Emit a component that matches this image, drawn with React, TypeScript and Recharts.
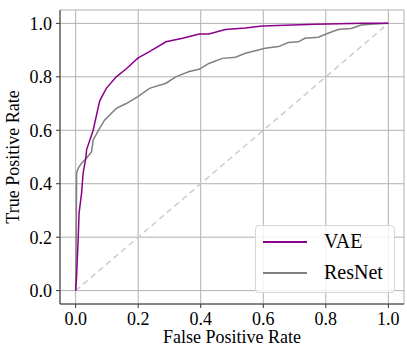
import { LineChart, Line, XAxis, YAxis, CartesianGrid } from "recharts";

const ticks = [0, 0.2, 0.4, 0.6, 0.8, 1.0];

const vaeFpr = [0, 0.003, 0.008, 0.011, 0.019, 0.024, 0.033, 0.035, 0.056, 0.077, 0.098, 0.13, 0.162, 0.199, 0.236, 0.289, 0.342, 0.395, 0.426, 0.479, 0.543, 0.596, 0.765, 0.924, 1.0];
const vaeTpr = [0, 0.053, 0.19, 0.29, 0.365, 0.44, 0.5, 0.527, 0.6, 0.71, 0.757, 0.8, 0.83, 0.87, 0.894, 0.931, 0.944, 0.96, 0.96, 0.977, 0.983, 0.99, 0.997, 1.0, 1.0];

const resFpr = [0, 0.002, 0.003, 0.008, 0.019, 0.035, 0.051, 0.056, 0.077, 0.093, 0.13, 0.162, 0.199, 0.236, 0.289, 0.32, 0.363, 0.395, 0.426, 0.469, 0.511, 0.543, 0.606, 0.649, 0.68, 0.712, 0.733, 0.776, 0.807, 0.839, 0.881, 0.913, 0.945, 1.0];
const resTpr = [0, 0.2, 0.44, 0.458, 0.477, 0.496, 0.52, 0.564, 0.608, 0.639, 0.682, 0.7, 0.726, 0.757, 0.776, 0.8, 0.82, 0.828, 0.85, 0.869, 0.873, 0.888, 0.907, 0.913, 0.928, 0.931, 0.944, 0.948, 0.963, 0.977, 0.981, 0.994, 0.997, 1.0];

const chanceFpr = [0, 1];
const chanceTpr = [0, 1];

const seriesNames = ["VAE", "ResNet"];
const seriesColors = ["#8b008b", "#808080"];

const zip = (xs: number[], ys: number[]) => xs.map((x, i) => ({ fpr: x, tpr: ys[i] }));

const font = "'Liberation Serif', 'Times New Roman', serif";

function LegendBox() {
  return (
    <div
      style={{
        position: "absolute",
        left: 255,
        top: 225,
        width: 140,
        boxSizing: "border-box",
        background: "rgba(255,255,255,0.8)",
        border: "1px solid #d6d6d6",
        borderRadius: 4,
        padding: "0 8px 4px 7px",
        fontFamily: font,
        fontSize: 20,
        color: "#000",
      }}
    >
      {seriesNames.map((name, i) => (
        <div key={name} style={{ display: "flex", alignItems: "center", height: 31 }}>
          <div style={{ width: 44, height: 2, background: seriesColors[i], marginRight: 17 }} />
          <span>{name}</span>
        </div>
      ))}
    </div>
  );
}

export default function App() {
  return (
    <div style={{ position: "fixed", left: 0, top: 0, width: 407, height: 347, background: "#fff", fontFamily: font }}>
      <style>{`
        .roc svg text { font-family: 'Liberation Serif', 'Times New Roman', serif !important; }
        .roc .recharts-cartesian-axis-tick-value { font-size: 18px !important; }
      `}</style>
      <div className="roc">
        <LineChart width={407} height={347} margin={{ top: 10, right: 3, left: 0, bottom: 0 }}>
          <CartesianGrid stroke="#b0b0b0" strokeWidth={1} horizontal vertical />
          <XAxis
            type="number"
            dataKey="fpr"
            domain={[-0.05, 1.05]}
            ticks={ticks}
            tickFormatter={(v: number) => v.toFixed(1)}
            allowDataOverflow
            height={43}
            stroke="#333"
            tickSize={4}
            tickMargin={4}
            tick={{ fill: "#000", fontSize: 18 }}
            label={{ value: "False Positive Rate", position: "insideBottom", offset: 4, fill: "#000", fontSize: 18 }}
          />
          <XAxis xAxisId="top" orientation="top" type="number" domain={[-0.05, 1.05]} height={0} tick={false} tickLine={false} stroke="#333" />
          <YAxis
            type="number"
            dataKey="tpr"
            domain={[-0.05, 1.05]}
            ticks={ticks}
            tickFormatter={(v: number) => v.toFixed(1)}
            allowDataOverflow
            width={60}
            stroke="#333"
            tickSize={4}
            tickMargin={4}
            tick={{ fill: "#000", fontSize: 18 }}
            label={{ value: "True Positive Rate", angle: -90, position: "insideLeft", offset: 13, style: { textAnchor: "middle" }, fill: "#000", fontSize: 18 }}
          />
          <YAxis yAxisId="right" orientation="right" type="number" domain={[-0.05, 1.05]} width={0} tick={false} tickLine={false} stroke="#333" />
          <Line
            data={zip(chanceFpr, chanceTpr)}
            dataKey="tpr"
            stroke="#cccccc"
            strokeWidth={1.5}
            strokeDasharray="6 4"
            dot={false}
            isAnimationActive={false}
          />
          <Line
            data={zip(resFpr, resTpr)}
            dataKey="tpr"
            name={seriesNames[1]}
            stroke={seriesColors[1]}
            strokeWidth={1.5}
            dot={false}
            isAnimationActive={false}
          />
          <Line
            data={zip(vaeFpr, vaeTpr)}
            dataKey="tpr"
            name={seriesNames[0]}
            stroke={seriesColors[0]}
            strokeWidth={1.5}
            dot={false}
            isAnimationActive={false}
          />
        </LineChart>
      </div>
      <LegendBox />
    </div>
  );
}
